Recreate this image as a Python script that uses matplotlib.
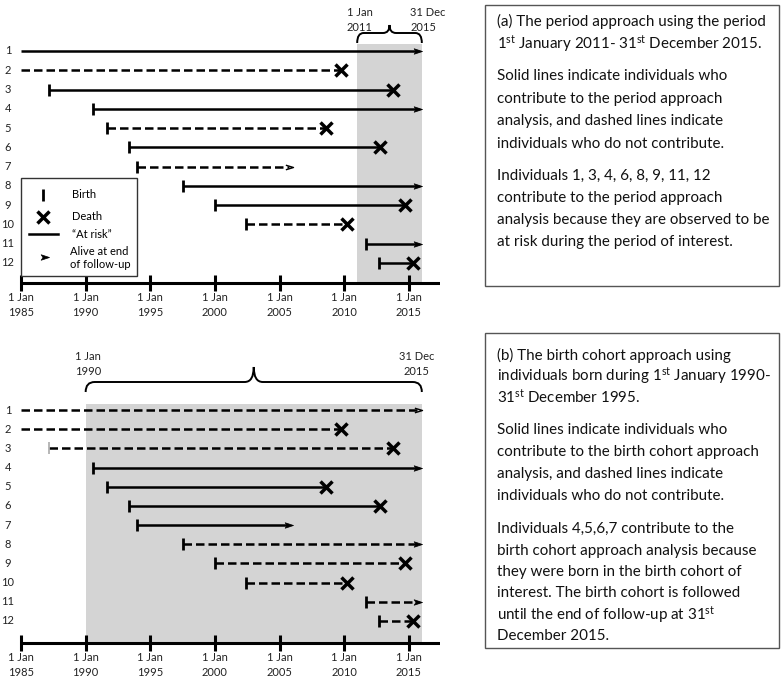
import matplotlib
matplotlib.use("Agg")
import matplotlib.pyplot as plt
from matplotlib.path import Path
from matplotlib.patches import PathPatch, Rectangle

plt.rcParams['font.family'] = ['Lato', 'DejaVu Sans']
plt.rcParams['mathtext.fontset'] = 'custom'
plt.rcParams['mathtext.rm'] = 'Lato'
plt.rcParams['mathtext.it'] = 'Lato:italic'
plt.rcParams['mathtext.bf'] = 'Lato:bold'

# ---------------- data ----------------
individuals = list(range(1, 13))
entry_year = [1985, 1985, 1987.2, 1990.6, 1991.65, 1993.35, 1994.0, 1997.5, 2000.0, 2002.4, 2011.7, 2012.7]
exit_year = [2016, 2009.75, 2013.8, 2016, 2008.6, 2012.8, 2006.0, 2016, 2014.7, 2010.2, 2016, 2015.3]
birth_seen = [False, False, True, True, True, True, True, True, True, True, True, True]
outcome = ['alive', 'death', 'death', 'alive', 'death', 'death', 'alive', 'alive', 'death', 'death', 'alive', 'death']
contrib_period = [1, 0, 1, 1, 0, 1, 0, 1, 1, 0, 1, 1]
contrib_cohort = [0, 0, 0, 1, 1, 1, 1, 0, 0, 0, 0, 0]
tick_years = [1985, 1990, 1995, 2000, 2005, 2010, 2015]
tick_labels = ["1 Jan\n1985", "1 Jan\n1990", "1 Jan\n1995", "1 Jan\n2000",
               "1 Jan\n2005", "1 Jan\n2010", "1 Jan\n2015"]
period_window = (2011, 2016)
cohort_window = (1990, 2016)

text_a = [
    ("(a) The period approach using the period", 21),
    (r"1$^{\mathrm{st}}$ January 2011- 31$^{\mathrm{st}}$ December 2015.", 44),
    ("Solid lines indicate individuals who", 76),
    ("contribute to the period approach", 99),
    ("analysis, and dashed lines indicate", 121),
    ("individuals who do not contribute.", 144),
    ("Individuals 1, 3, 4, 6, 8, 9, 11, 12", 176),
    ("contribute to the period approach", 198),
    ("analysis because they are observed to be", 220),
    ("at risk during the period of interest.", 242),
]
text_b = [
    ("(b) The birth cohort approach using", 355),
    (r"individuals born during 1$^{\mathrm{st}}$ January 1990-", 376),
    (r"31$^{\mathrm{st}}$ December 1995.", 397),
    ("Solid lines indicate individuals who", 430),
    ("contribute to the birth cohort approach", 452),
    ("analysis, and dashed lines indicate", 474),
    ("individuals who do not contribute.", 496),
    ("Individuals 4,5,6,7 contribute to the", 529),
    ("birth cohort approach analysis because", 551),
    ("they were born in the birth cohort of", 572),
    ("interest. The birth cohort is followed", 593),
    (r"until the end of follow-up at 31$^{\mathrm{st}}$", 615),
    ("December 2015.", 636),
]

# ---------------- layout ----------------
W, H = 781, 678
fig = plt.figure(figsize=(W / 100, H / 100), dpi=100)
PXY = 12.93   # px per year
X0 = 21       # px of 1985

arrow_head = Path([(0, 0), (-1, 0.33), (-0.78, 0), (-1, -0.33), (0, 0)],
                  [Path.MOVETO, Path.LINETO, Path.LINETO, Path.LINETO, Path.CLOSEPOLY])
open_head = Path([(-1, 0.3), (0, 0), (-1, -0.3)], [Path.MOVETO, Path.LINETO, Path.LINETO])

DASH = (3.4, 1.6)
LW = 1.8
SMALL = 8


def make_axes(py_top, py_bot, row1_px, row_sp):
    ax = fig.add_axes([0, 1 - py_bot / H, 440 / W, (py_bot - py_top) / H])
    ax.set_xlim(1985 - X0 / PXY, 1985 + (440 - X0) / PXY)
    ax.set_ylim(1 + (py_bot - row1_px) / row_sp, 1 - (row1_px - py_top) / row_sp)
    ax.axis('off')
    return ax


def brace(ax, x0, x1, y_end, y_mid, y_tip, rx):
    xm = (x0 + x1) / 2
    verts = [(x0, y_end), (x0, y_mid), (x0 + rx, y_mid), (xm - rx, y_mid),
             (xm, y_mid), (xm, y_tip), (xm, y_mid), (xm + rx, y_mid),
             (x1 - rx, y_mid), (x1, y_mid), (x1, y_end)]
    codes = [Path.MOVETO, Path.CURVE3, Path.CURVE3, Path.LINETO,
             Path.CURVE3, Path.CURVE3, Path.CURVE3, Path.CURVE3,
             Path.LINETO, Path.CURVE3, Path.CURVE3]
    ax.add_patch(PathPatch(Path(verts, codes), fill=False, lw=1.4, ec='black'))


def draw_panel(ax, contrib, axis_r, thin_heads, grey_birth):
    for i, r in enumerate(individuals):
        s, e = entry_year[i], exit_year[i]
        solid = contrib[i] == 1
        ls = dict(lw=LW, color='black', solid_capstyle='butt', dash_capstyle='butt')
        e_line = e - (0.25 if outcome[i] == 'alive' else 0)
        if solid:
            ax.plot([s, e_line], [r, r], ls='-', **ls)
        else:
            ln, = ax.plot([s, e_line], [r, r], ls='--', **ls)
            ln.set_dashes(DASH)
        if birth_seen[i]:
            if r in grey_birth:
                ax.plot([s], [r], marker='|', ms=8, mew=1.2, color='#aaaaaa')
            else:
                ax.plot([s], [r], marker='|', ms=9, mew=2.0, color='black')
        if outcome[i] == 'death':
            ax.plot([e], [r], marker='x', ms=9, mew=2.5, color='black')
        else:
            if r in thin_heads:
                ax.plot([e], [r], marker=open_head, ms=11, mew=1.0, color='black',
                        fillstyle='none')
            else:
                ax.plot([e], [r], marker=arrow_head, ms=12, mew=0.5, color='black')
        ax.text(1985 - 13 / PXY, r, str(r), ha='center', va='center', fontsize=SMALL,
                color='#222222')
    # time axis
    ax.plot([1985, 1985 + (440 - X0) / PXY], [axis_r, axis_r], color='black', lw=2.2,
            solid_capstyle='butt')
    ax.plot(tick_years, [axis_r] * len(tick_years), ls='none', marker='|', ms=11,
            mew=2.2, color='black')
    for yv, lab in zip(tick_years, tick_labels):
        ax.text(yv, axis_r + 0.45, lab, ha='center', va='top', fontsize=SMALL,
                linespacing=1.45, color='#222222')


# ---------------- panel (a) ----------------
sp_a = 19.27
ax1 = make_axes(0, 330, 51, sp_a)
r_of = lambda py: 1 + (py - 51) / sp_a
axis_a = r_of(283)
ax1.add_patch(Rectangle((period_window[0], r_of(44)), period_window[1] - period_window[0],
                        axis_a - r_of(44), fc='#d4d4d4', ec='none', zorder=0))
draw_panel(ax1, contrib_period, axis_a, thin_heads=[7], grey_birth=[])
brace(ax1, period_window[0], period_window[1], r_of(43), r_of(33), r_of(25), 0.5)
ax1.text(2011.2, r_of(20), "1 Jan\n2011", ha='center', va='center', fontsize=SMALL,
         linespacing=1.45, color='#222222')
ax1.text(2015.1, r_of(20), "31 Dec\n2015", ha='left', va='center', fontsize=SMALL,
         linespacing=1.45, color='#222222')
# legend
lx0 = 1985
ax1.add_patch(Rectangle((lx0, r_of(178)), 116 / PXY, r_of(276) - r_of(178), fc='white',
                        ec='#333333', lw=1.0, zorder=3))
mx = 1985 + 22 / PXY
tx = 1985 + 51 / PXY
ax1.plot([mx], [r_of(195)], marker='|', ms=9, mew=2.0, color='black', zorder=4)
ax1.text(tx, r_of(195), "Birth", fontsize=SMALL, va='center', zorder=4)
ax1.plot([mx], [r_of(217)], marker='x', ms=9, mew=2.5, color='black', zorder=4)
ax1.text(tx, r_of(217), "Death", fontsize=SMALL, va='center', zorder=4)
ax1.plot([1985 + 8 / PXY, 1985 + 37 / PXY], [r_of(234), r_of(234)], lw=LW,
         color='black', zorder=4)
ax1.text(tx, r_of(234), "\u201cAt risk\u201d", fontsize=SMALL, va='center', zorder=4)
ax1.plot([1985 + 28 / PXY], [r_of(257)], marker=arrow_head, ms=12, mew=0.5,
         color='black', zorder=4)
ax1.text(1985 + 49 / PXY, r_of(258), "Alive at end\nof follow-up", fontsize=SMALL,
         va='center', linespacing=1.25, zorder=4)

# ---------------- panel (b) ----------------
sp_b = 19.18
ax2 = make_axes(330, 678, 410, sp_b)
rb = lambda py: 1 + (py - 410) / sp_b
axis_b = rb(643)
ax2.add_patch(Rectangle((cohort_window[0], rb(404)), cohort_window[1] - cohort_window[0],
                        axis_b - rb(404), fc='#d4d4d4', ec='none', zorder=0))
draw_panel(ax2, contrib_cohort, axis_b, thin_heads=[1], grey_birth=[3])
brace(ax2, cohort_window[0], cohort_window[1], rb(392), rb(382), rb(367), 0.7)
ax2.text(1990.2, rb(364), "1 Jan\n1990", ha='center', va='center', fontsize=SMALL,
         linespacing=1.45, color='#222222')
ax2.text(2015.6, rb(364), "31 Dec\n2015", ha='center', va='center', fontsize=SMALL,
         linespacing=1.45, color='#222222')

# ---------------- text boxes ----------------
for (top, bot) in [(5, 286), (333, 648)]:
    fig.patches.append(Rectangle((485 / W, 1 - bot / H), (779 - 485) / W, (bot - top) / H,
                                 transform=fig.transFigure, fill=False, ec='#555555',
                                 lw=1.0))
for txt, py in text_a + text_b:
    fig.text(497 / W, 1 - py / H, txt, ha='left', va='center', fontsize=10.9,
             color='#111111')

fig.savefig("out.png", dpi=100)
